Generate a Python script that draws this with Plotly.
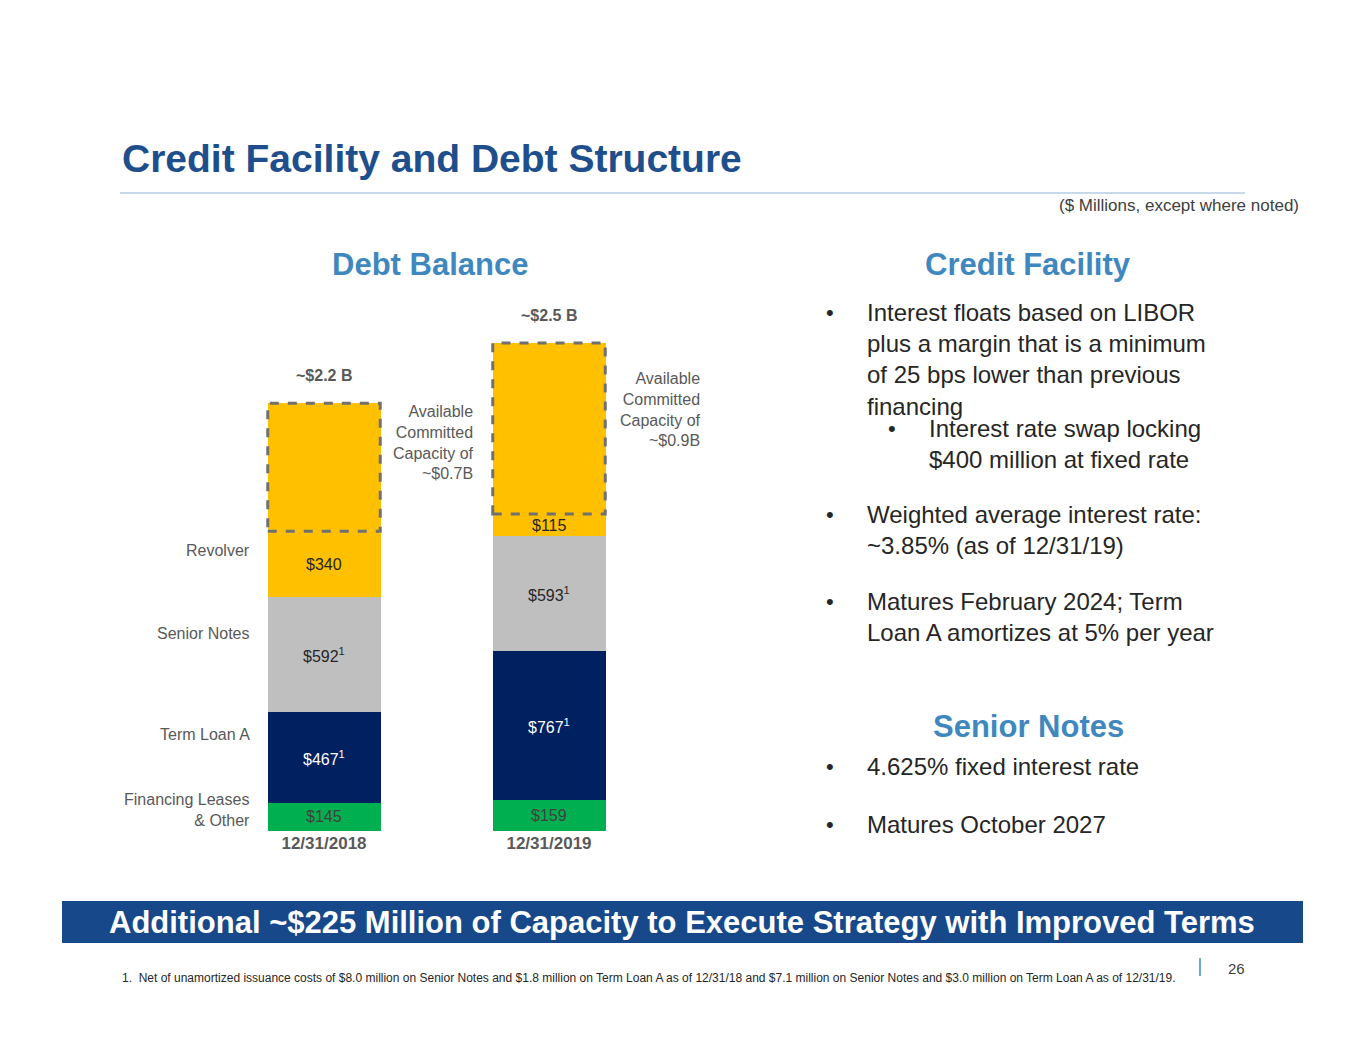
import plotly.graph_objects as go

W, H = 1365, 1055
OFF = 8  # page body margin offset

dates = ["12/31/2018", "12/31/2019"]
leases = [145, 159]
term_loan = [467, 767]
senior_notes = [592, 593]
revolver = [340, 115]
capacity = [660, 880]
totals_text = ["~$2.2 B", "~$2.5 B"]
capacity_text = ["Available<br>Committed<br>Capacity of<br>~$0.7B",
                 "Available<br>Committed<br>Capacity of<br>~$0.9B"]

BLUE = "#1F4E8C"
LIGHT = "#3F88BF"
GREY = "#595959"
FONT = "Liberation Sans, Arial"


def px(x, y):
    # slide pixel -> paper coordinates
    return (x - OFF) / W, 1 - (y - OFF) / H


fig = go.Figure()
series = [
    ("Financing Leases & Other", leases, "#00B050"),
    ("Term Loan A", term_loan, "#002060"),
    ("Senior Notes", senior_notes, "#BFBFBF"),
    ("Revolver", revolver, "#FFC000"),
    ("Capacity", capacity, "#FFC000"),
]
for name, vals, col in series:
    fig.add_trace(go.Bar(x=[0, 1], y=vals, name=name, marker_color=col,
                         marker_line_width=0, width=0.5, showlegend=False))

# segment value labels
label_color = ["#404040", "white", "#262626", "#262626"]
supers = [["", ""], ["1", "1"], ["1", "1"], ["", ""]]
for i in range(2):
    base = 0
    for k, (name, vals, col) in enumerate(series[:4]):
        v = vals[i]
        mid = base + v / 2
        base += v
        txt = f"${v}" + (f"<sup>{supers[k][i]}</sup>" if supers[k][i] else "")
        fig.add_annotation(x=i, y=mid, xref="x", yref="y", text=txt, showarrow=False,
                           font=dict(size=16, color=label_color[k], family=FONT))
    # dashed capacity box
    fig.add_shape(type="rect", xref="x", yref="y", x0=i - 0.25, x1=i + 0.25,
                  y0=base, y1=base + capacity[i],
                  line=dict(color="#707070", width=3, dash="dash"))
    fig.add_annotation(x=i, y=base + capacity[i], xref="x", yref="y", yshift=28,
                       text=f"<b>{totals_text[i]}</b>", showarrow=False,
                       font=dict(size=16, color=GREY, family=FONT))

fig.update_layout(
    width=W, height=H, margin=dict(l=0, r=0, t=0, b=0),
    paper_bgcolor="white", plot_bgcolor="white", barmode="stack", bargap=0,
    xaxis=dict(domain=[(211.5 - OFF) / W, (661.5 - OFF) / W], range=[-0.5, 1.5], tickvals=[0, 1],
               ticktext=[f"<b>{d}</b>" for d in dates], showgrid=False, zeroline=False,
               showline=False, tickfont=dict(size=17, color=GREY, family=FONT)),
    yaxis=dict(domain=[1 - (831 - OFF) / H, 1 - (300 - OFF) / H], range=[0, 2736], visible=False),
)


def text(x, y, s, size, color=GREY, xanchor="left", bold=False, align="left", yanchor="middle"):
    xx, yy = px(x, y)
    fig.add_annotation(x=xx, y=yy, xref="paper", yref="paper", text=f"<b>{s}</b>" if bold else s,
                       showarrow=False, xanchor=xanchor, yanchor=yanchor, align=align,
                       font=dict(size=size, color=color, family=FONT))


text(120, 158, "Credit Facility and Debt Structure", 39, BLUE, bold=True)
fig.add_shape(type="line", xref="paper", yref="paper", x0=(120 - OFF) / W, x1=(1245 - OFF) / W,
              y0=1 - (193 - OFF) / H, y1=1 - (193 - OFF) / H, line=dict(color="#8FB3D6", width=1))
text(1301, 205, "($ Millions, except where noted)", 17, "#404040", xanchor="right")
text(430, 264, "Debt Balance", 31, LIGHT, xanchor="center", bold=True)
text(1028, 264, "Credit Facility", 31, LIGHT, xanchor="center", bold=True)
text(1028, 726, "Senior Notes", 31, LIGHT, xanchor="center", bold=True)

text(476, 442, capacity_text[0], 16, GREY, xanchor="right", align="right")
text(703, 410, capacity_text[1], 16, GREY, xanchor="right", align="right")

for lab, y in [("Revolver", 550), ("Senior Notes", 633), ("Term Loan A", 734),
               ("Financing Leases<br>& Other", 810)]:
    text(252, y, lab, 16, GREY, xanchor="right", align="right")

bullets = [
    (312, "Interest floats based on LIBOR<br>plus a margin that is a minimum<br>of 25 bps lower than previous<br>financing", 830, 865),
    (428, "Interest rate swap locking<br>$400 million at fixed rate", 892, 927),
    (514, "Weighted average interest rate:<br>~3.85% (as of 12/31/19)", 830, 865),
    (601, "Matures February 2024; Term<br>Loan A amortizes at 5% per year", 830, 865),
    (766, "4.625% fixed interest rate", 830, 865),
    (824, "Matures October 2027", 830, 865),
]
for y, s, bx, tx in bullets:
    text(bx, y, "•", 22, "#262626", xanchor="center")
    text(tx, y - 15, s, 24, "#262626", yanchor="top")

fig.add_shape(type="rect", xref="paper", yref="paper", x0=(62 - OFF) / W, x1=(1303 - OFF) / W,
              y0=1 - (943 - OFF) / H, y1=1 - (901 - OFF) / H, fillcolor="#17488A", line_width=0)
text(682, 922, "Additional ~$225 Million of Capacity to Execute Strategy with Improved Terms",
     31, "white", xanchor="center", bold=True)
text(120, 978, "1.  Net of unamortized issuance costs of $8.0 million on Senior Notes and $1.8 million on Term Loan A as of 12/31/18 and $7.1 million on Senior Notes and $3.0 million on Term Loan A as of 12/31/19.",
     12, "#262626")
fig.add_shape(type="line", xref="paper", yref="paper", x0=(1200 - OFF) / W, x1=(1200 - OFF) / W,
              y0=1 - (958 - OFF) / H, y1=1 - (976 - OFF) / H, line=dict(color=LIGHT, width=1.5))
text(1236, 968, "26", 15, "#404040", xanchor="center")

fig.write_html("out.html")
